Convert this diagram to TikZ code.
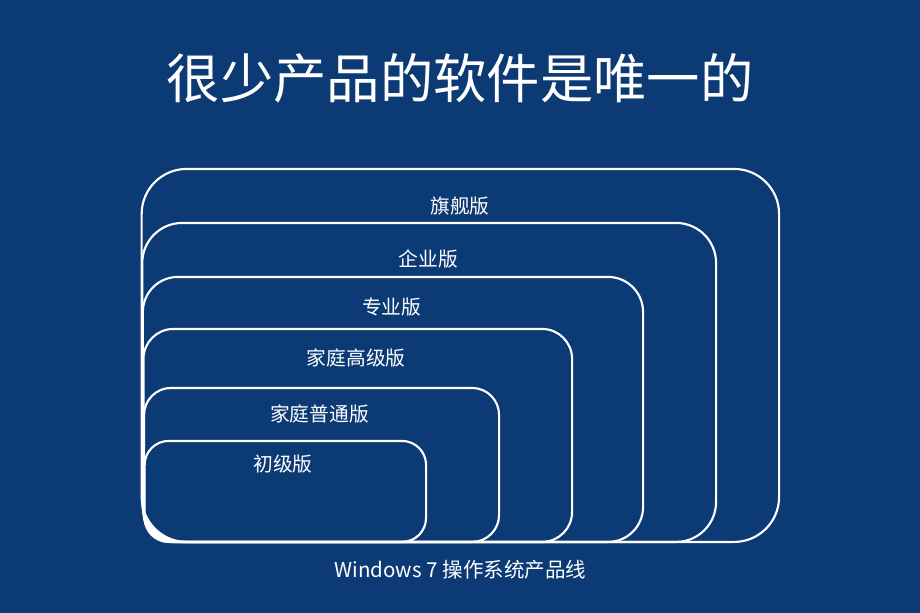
\documentclass[tikz,border=0pt]{standalone}
\usepackage{fontspec}
\setmainfont{Noto Sans CJK SC}
\usetikzlibrary{positioning}
\definecolor{bgblue}{RGB}{12,58,117}
\tikzset{
  edbox/.style={draw=white, line width=1.6pt, inner sep=0pt, anchor=south west},
  edlabel/.style={text=white, font=\fontsize{14.8}{17}\selectfont, inner sep=0pt}
}
\begin{document}
\begin{tikzpicture}[x=0.75pt, y=-0.75pt]
  \fill[bgblue] (0,0) rectangle (920,613);
  \useasboundingbox (0,0) rectangle (920,613);

  \node[text=white, font=\fontsize{40}{46}\selectfont] (title) at (460,78) {很少产品的软件是唯一的};

  % editions: right edge / top edge / corner radius / label gap / label / name
  \foreach \r/\t/\rc/\g/\lab/\nm [count=\i] in {
      778/170/45/38.5/旗舰版/ult,
      715/224/40/37.5/企业版/ent,
      642/278/35/31.5/专业版/pro,
      571/330/30/30.5/家庭高级版/hpr,
      498/389/27/27.5/家庭普通版/hba,
      425/442/24/24.5/初级版/sta}{
    \pgfmathsetmacro\w{(\r-140-\i*0.6)*0.75}
    \pgfmathsetmacro\h{(543-\t)*0.75}
    \pgfmathsetmacro\rr{\rc*0.75}
    \pgfmathsetmacro\dx{-\i*0.3}
    \pgfmathsetmacro\gg{\g*0.75}
    \node[edbox, rounded corners=\rr pt, minimum width=\w pt, minimum height=\h pt]
      (\nm) at (140+\i*0.6,543) {};
    \node[edlabel, below=\gg pt of \nm.north, xshift=\dx pt, anchor=center] (\nm-l) {\lab};
  }

  \node[text=white, font=\fontsize{15.4}{18}\selectfont, below=9.25pt of ult.south] (cap) {Windows 7 操作系统产品线};
\end{tikzpicture}
\end{document}
